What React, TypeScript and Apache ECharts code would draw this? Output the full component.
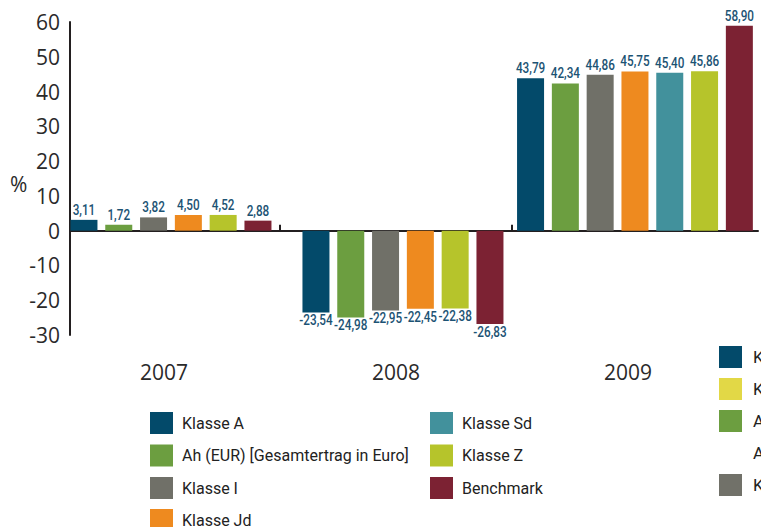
import React, { useEffect, useRef } from "react";
import * as echarts from "echarts";

const years = ["2007", "2008", "2009"];
const seriesNames = [
  "Klasse A",
  "Ah (EUR) [Gesamtertrag in Euro]",
  "Klasse I",
  "Klasse Jd",
  "Klasse Sd",
  "Klasse Z",
  "Benchmark",
];
const klasseA = [3.11, -23.54, 43.79];
const ahEur = [1.72, -24.98, 42.34];
const klasseI = [3.82, -22.95, 44.86];
const klasseJd = [4.5, -22.45, 45.75];
const klasseSd = [null, null, 45.4];
const klasseZ = [4.52, -22.38, 45.86];
const benchmark = [2.88, -26.83, 58.9];
const seriesValues: (number | null)[][] = [klasseA, ahEur, klasseI, klasseJd, klasseSd, klasseZ, benchmark];
const colors = ["#034a6a", "#6c9e40", "#707068", "#ee8a1f", "#42919c", "#b6c42b", "#7c2233"];
const yTicks = { min: -30, max: 60, interval: 10 };

const sideLegend = [
  { label: "K", color: "#034a6a" },
  { label: "K", color: "#e2d846" },
  { label: "A", color: "#6c9e40" },
  { label: "A", color: null },
  { label: "K", color: "#717169" },
];

const narrow = "Roboto, 'Noto Sans', sans-serif";
const axisFont = "'Open Sans', 'Liberation Sans', sans-serif";

const fmt = (v: number) => v.toFixed(2).replace(".", ",");

export default function App() {
  const ref = useRef<HTMLDivElement>(null);
  useEffect(() => {
    if (!ref.current) return;
    const chart = echarts.init(ref.current, undefined, { renderer: "svg" });

    const customSeries = seriesNames.map((name, si) => ({
      type: "custom",
      name,
      coordinateSystem: "cartesian2d",
      xAxisIndex: 1,
      yAxisIndex: 1,
      itemStyle: { color: colors[si] },
      clip: false,
      z: 3,
      data: seriesValues[si]
        .map((v, ci) => (v === null ? null : [ci, v]))
        .filter((d) => d !== null),
      renderItem: (params: any, api: any) => {
        const cat = api.value(0);
        const v = api.value(1);
        const present = seriesValues
          .map((arr, idx) => (arr[cat] === null ? -1 : idx))
          .filter((idx) => idx >= 0);
        const slot = present.indexOf(si);
        const n = present.length;
        const base = api.coord([cat, 0]);
        const bandW = api.size([1, 0])[0];
        const step = bandW * 0.15;
        const shift = bandW * 0.03;
        const barW = bandW * 0.1164;
        const cx = base[0] + shift + (slot - (n - 1) / 2) * step;
        const top = api.coord([cat, v]);
        const y0 = Math.min(top[1], base[1]);
        const h = Math.abs(top[1] - base[1]);
        return {
          type: "group",
          children: [
            {
              type: "rect",
              shape: { x: cx - barW / 2, y: y0, width: barW, height: h },
              style: { fill: colors[si] },
            },
            {
              type: "text",
              x: cx,
              y: v >= 0 ? top[1] - 3 : top[1] + 1,
              scaleX: 0.84,
              style: {
                text: fmt(v),
                x: 0,
                y: 0,
                align: "center",
                verticalAlign: v >= 0 ? "bottom" : "top",
                fill: "#1c5374",
                font: `500 14px ${narrow}`,
              },
            },
          ],
        };
      },
    }));

    const legendCommon = {
      orient: "vertical",
      icon: "rect",
      itemWidth: 23,
      itemHeight: 22,
      itemGap: 10.5,
      padding: 0,
      selectedMode: false,
      textStyle: {
        fontSize: 16,
        color: "#222",
        fontFamily: narrow,
        padding: [0, 0, 0, 4],
      },
    };

    const graphics: any[] = [
      {
        type: "text",
        left: 10,
        top: 173,
        style: { text: "%", fontSize: 21, fill: "#2a2a2a", fontFamily: axisFont },
      },
    ];
    sideLegend.forEach((it, i) => {
      const cy = 357 + i * 32;
      if (it.color) {
        graphics.push({
          type: "rect",
          shape: { x: 719, y: cy - 11, width: 23, height: 22 },
          style: { fill: it.color },
        });
      }
      graphics.push({
        type: "text",
        x: 753,
        y: cy,
        style: {
          text: it.label,
          fontSize: 17,
          fill: "#222",
          fontFamily: narrow,
          verticalAlign: "middle",
        },
      });
    });

    chart.setOption({
      animation: false,
      grid: [
        { left: 70, right: 3, top: 22, bottom: 192 },
        { left: 48, right: 17, top: 22, bottom: 192 },
      ],
      legend: [
        { ...legendCommon, left: 150, top: 412, data: seriesNames.slice(0, 3) },
        { ...legendCommon, left: 150, top: 509, data: seriesNames.slice(3, 4) },
        { ...legendCommon, left: 430, top: 412, data: seriesNames.slice(4) },
      ],
      xAxis: [
        {
          gridIndex: 0,
          type: "category",
          data: years,
          axisLine: { show: true, onZero: true, lineStyle: { color: "#231f20", width: 2 } },
          axisTick: { show: false },
          axisLabel: { show: false },
          splitLine: { show: false },
        },
        {
          gridIndex: 1,
          type: "category",
          data: years,
          axisLine: { show: false, onZero: true },
          axisTick: {
            show: true,
            inside: true,
            length: 6,
            interval: (index: number) => index !== 0,
            lineStyle: { color: "#231f20", width: 2 },
          },
          axisLabel: { show: false },
          splitLine: { show: false },
        },
        {
          gridIndex: 1,
          type: "category",
          data: years,
          position: "bottom",
          axisLine: { show: false, onZero: false },
          axisTick: { show: false },
          axisLabel: { show: true, fontSize: 21, color: "#2a2a2a", fontFamily: axisFont, margin: 26 },
          splitLine: { show: false },
        },
      ],
      yAxis: [
        {
          gridIndex: 0,
          type: "value",
          min: yTicks.min,
          max: yTicks.max,
          interval: yTicks.interval,
          axisLine: { show: true, lineStyle: { color: "#231f20", width: 2 } },
          axisTick: { show: false },
          splitLine: { show: false },
          axisLabel: { fontSize: 21, color: "#2a2a2a", fontFamily: axisFont, margin: 10 },
        },
        {
          gridIndex: 1,
          type: "value",
          min: yTicks.min,
          max: yTicks.max,
          interval: yTicks.interval,
          show: false,
        },
      ],
      graphic: graphics,
      series: customSeries,
    });
    return () => chart.dispose();
  }, []);
  return (
    <div
      ref={ref}
      style={{ position: "fixed", left: 0, top: 0, width: 761, height: 527, background: "#fff" }}
    />
  );
}
